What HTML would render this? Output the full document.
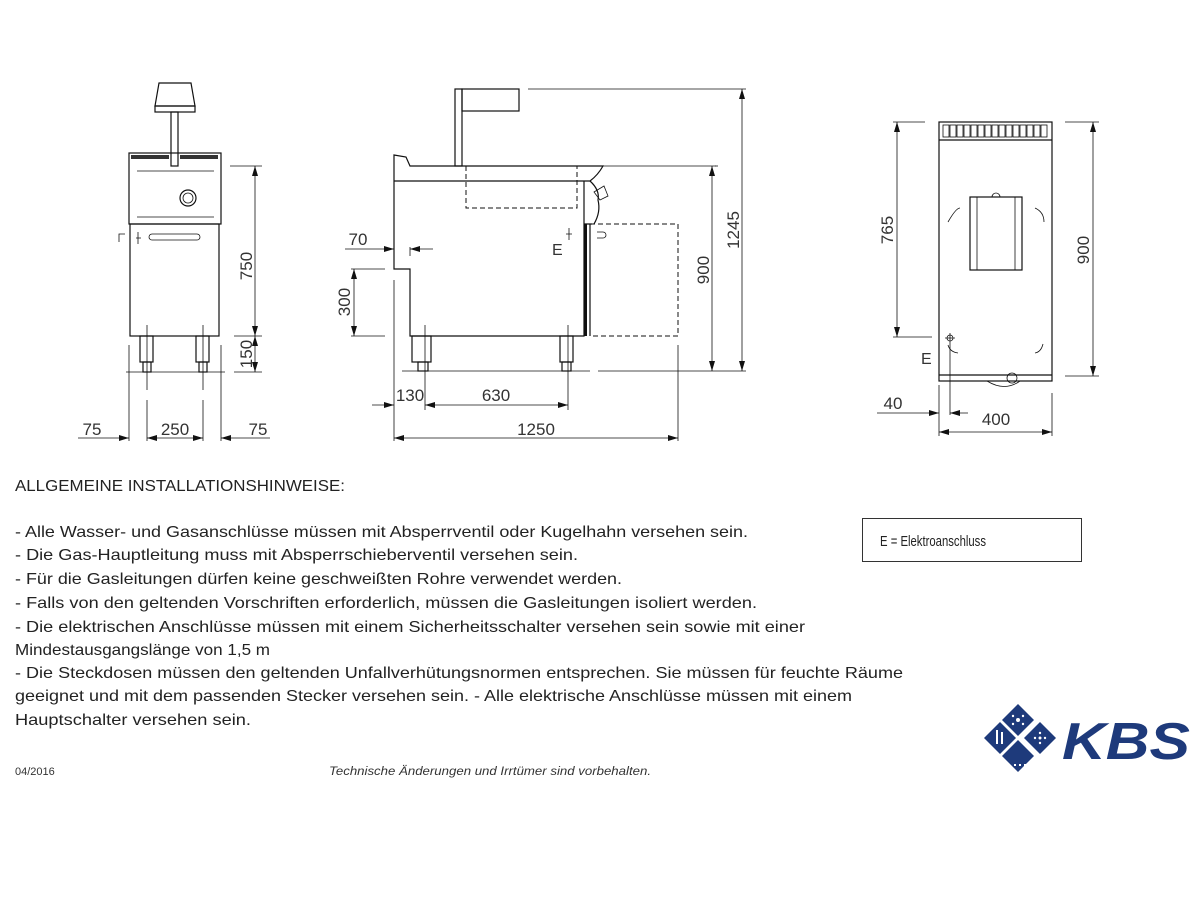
<!DOCTYPE html>
<html><head><meta charset="utf-8"><style>
html,body{margin:0;padding:0;background:#fff}
svg{display:block}
.l{stroke:#111;stroke-width:1.2;fill:none}
.t{stroke:#111;stroke-width:0.8;fill:none}
.d{stroke:#111;stroke-width:1;fill:none;stroke-dasharray:5,3}
.dim{font-family:"Liberation Sans",sans-serif;font-size:17px;fill:#333}
.body{font-family:"Liberation Sans",sans-serif;font-size:16px;fill:#222}
</style></head><body>
<svg width="1200" height="900" viewBox="0 0 1200 900" xmlns="http://www.w3.org/2000/svg">
<defs>
<marker id="a" viewBox="0 0 10 6" refX="10" refY="3" markerWidth="10" markerHeight="6" orient="auto-start-reverse" markerUnits="userSpaceOnUse"><path d="M0,0L10,3L0,6z" fill="#111"/></marker>
</defs>

<!-- FRONT VIEW -->
<path class="l" d="M159,83 L191,83 L195,106 L155,106 Z"/>
<rect class="l" x="155" y="106" width="40" height="6"/>
<rect class="l" x="171" y="112" width="7" height="54"/>
<rect class="l" x="129" y="153" width="92" height="71"/>
<g fill="#333"><rect x="131" y="155" width="38" height="4"/><rect x="180" y="155" width="38" height="4"/></g>
<line class="t" x1="137" y1="171" x2="214" y2="171"/>
<line class="t" x1="137" y1="217" x2="214" y2="217"/>
<circle class="l" cx="188" cy="198" r="8"/><circle class="t" cx="188" cy="198" r="5"/>
<rect class="l" x="130" y="224" width="89" height="112"/>
<rect class="t" x="149" y="234" width="51" height="6" rx="3"/>
<path class="t" d="M138,232v12M136,238h5M119,242v-8h6"/>
<rect class="l" x="140" y="336" width="13" height="26"/><rect class="l" x="143" y="362" width="8" height="10"/>
<rect class="l" x="196" y="336" width="13" height="26"/><rect class="l" x="199" y="362" width="8" height="10"/>
<line class="t" x1="126" y1="372" x2="225" y2="372"/>
<line class="t" x1="147" y1="325" x2="147" y2="390"/><line class="t" x1="147" y1="400" x2="147" y2="441"/>
<line class="t" x1="203" y1="325" x2="203" y2="390"/><line class="t" x1="203" y1="400" x2="203" y2="441"/>
<line class="t" x1="129" y1="345" x2="129" y2="441"/><line class="t" x1="221" y1="345" x2="221" y2="441"/>
<line class="t" x1="230" y1="166" x2="262" y2="166"/><line class="t" x1="234" y1="336" x2="262" y2="336"/><line class="t" x1="234" y1="372" x2="262" y2="372"/>
<line class="t" x1="255" y1="166" x2="255" y2="336" marker-start="url(#a)" marker-end="url(#a)"/>
<line class="t" x1="255" y1="336" x2="255" y2="372" marker-start="url(#a)" marker-end="url(#a)"/>
<text class="dim" transform="translate(252,266) rotate(-90)" text-anchor="middle">750</text>
<text class="dim" transform="translate(252,354) rotate(-90)" text-anchor="middle">150</text>
<line class="t" x1="78" y1="438" x2="129" y2="438" marker-end="url(#a)"/>
<line class="t" x1="147" y1="438" x2="203" y2="438" marker-start="url(#a)" marker-end="url(#a)"/>
<line class="t" x1="221" y1="438" x2="270" y2="438" marker-start="url(#a)"/>
<text class="dim" x="92" y="435" text-anchor="middle">75</text>
<text class="dim" x="175" y="435" text-anchor="middle">250</text>
<text class="dim" x="258" y="435" text-anchor="middle">75</text>

<!-- SIDE VIEW -->
<rect class="l" x="455" y="89" width="7" height="77"/>
<rect class="l" x="462" y="89" width="57" height="22"/>
<line class="t" x1="528" y1="89" x2="746" y2="89"/>
<path class="l" d="M394,181 L394,155 L406,157 L410,166 L577,166 L603,166 Q598,175 590,181 L394,181"/>
<path class="d" d="M466,166 L466,208 L577,208 L577,166"/>
<path class="l" d="M394,181 L394,269 L410,269 L410,336 L584,336 L584,181"/>
<rect x="584" y="224" width="3" height="112" fill="#111"/>
<path class="l" d="M590,224 L590,336 M584,224 L592,224"/>
<path class="l" d="M590,181 Q600,190 598,200 Q601,212 594,224"/>
<path class="t" d="M594,192 L604,186 L608,196 L600,200 Z"/>
<path class="d" d="M590,224 L678,224 L678,336 L590,336"/>
<path class="t" d="M597,232 h6 a3,3 0 0 1 0,6 h-6"/>
<path class="t" d="M569,228v12M566,234h6"/>
<text class="dim" x="552" y="255" style="font-size:16px">E</text>
<rect class="l" x="412" y="336" width="19" height="26"/><rect class="l" x="418" y="362" width="10" height="9"/>
<rect class="l" x="560" y="336" width="13" height="26"/><rect class="l" x="562" y="362" width="9" height="9"/>
<line class="t" x1="402" y1="371" x2="590" y2="371"/><line class="t" x1="598" y1="371" x2="746" y2="371"/>
<line class="t" x1="718" y1="166" x2="715" y2="166"/><line class="t" x1="603" y1="166" x2="716" y2="166"/>
<line class="t" x1="712" y1="166" x2="712" y2="371" marker-start="url(#a)" marker-end="url(#a)"/>
<line class="t" x1="742" y1="89" x2="742" y2="371" marker-start="url(#a)" marker-end="url(#a)"/>
<text class="dim" transform="translate(709,270) rotate(-90)" text-anchor="middle">900</text>
<text class="dim" transform="translate(739,230) rotate(-90)" text-anchor="middle">1245</text>
<line class="t" x1="345" y1="249" x2="394" y2="249" marker-end="url(#a)"/>
<line class="t" x1="433" y1="249" x2="410" y2="249" marker-end="url(#a)"/>
<line class="t" x1="410" y1="247" x2="410" y2="256"/>
<text class="dim" x="358" y="245" text-anchor="middle">70</text>
<line class="t" x1="351" y1="269" x2="385" y2="269"/><line class="t" x1="351" y1="336" x2="385" y2="336"/>
<line class="t" x1="354" y1="269" x2="354" y2="336" marker-start="url(#a)" marker-end="url(#a)"/>
<text class="dim" transform="translate(350,302) rotate(-90)" text-anchor="middle">300</text>
<line class="t" x1="394" y1="280" x2="394" y2="441"/>
<line class="t" x1="425" y1="325" x2="425" y2="410"/>
<line class="t" x1="568" y1="325" x2="568" y2="410"/>
<line class="t" x1="678" y1="345" x2="678" y2="441"/>
<line class="t" x1="372" y1="405" x2="394" y2="405" marker-end="url(#a)"/>
<line class="t" x1="425" y1="405" x2="568" y2="405" marker-start="url(#a)" marker-end="url(#a)"/>
<text class="dim" x="410" y="401" text-anchor="middle">130</text>
<text class="dim" x="496" y="401" text-anchor="middle">630</text>
<line class="t" x1="394" y1="438" x2="678" y2="438" marker-start="url(#a)" marker-end="url(#a)"/>
<text class="dim" x="536" y="435" text-anchor="middle">1250</text>

<!-- TOP VIEW -->
<rect class="l" x="939" y="122" width="113" height="259"/>
<line class="l" x1="939" y1="140" x2="1052" y2="140"/>
<line class="l" x1="939" y1="375" x2="1052" y2="375"/>
<g class="t">
<rect x="943" y="125" width="6" height="12"/><rect x="950" y="125" width="6" height="12"/><rect x="957" y="125" width="6" height="12"/><rect x="964" y="125" width="6" height="12"/><rect x="971" y="125" width="6" height="12"/><rect x="978" y="125" width="6" height="12"/><rect x="985" y="125" width="6" height="12"/><rect x="992" y="125" width="6" height="12"/><rect x="999" y="125" width="6" height="12"/><rect x="1006" y="125" width="6" height="12"/><rect x="1013" y="125" width="6" height="12"/><rect x="1020" y="125" width="6" height="12"/><rect x="1027" y="125" width="6" height="12"/><rect x="1034" y="125" width="6" height="12"/><rect x="1041" y="125" width="6" height="12"/>
</g>
<rect class="l" x="970" y="197" width="52" height="73"/>
<line class="t" x1="977" y1="197" x2="977" y2="270"/><line class="t" x1="1015" y1="197" x2="1015" y2="270"/>
<path class="t" d="M992,197 a4,4 0 0 1 8,0"/>
<path class="t" d="M948,222 Q956,208 960,208 M1035,208 Q1044,212 1044,222 M948,345 Q950,352 958,353 M1043,344 Q1041,352 1035,353"/>
<path class="t" d="M987,381 Q1005,392 1020,381"/>
<circle class="t" cx="1012" cy="378" r="5"/>
<circle class="t" cx="950" cy="338" r="3"/><path class="t" d="M945,338h10M950,333v10M950,341v74"/>
<text class="dim" x="921" y="364" style="font-size:16px">E</text>
<line class="t" x1="893" y1="122" x2="925" y2="122"/><line class="t" x1="893" y1="337" x2="932" y2="337"/>
<line class="t" x1="897" y1="122" x2="897" y2="337" marker-start="url(#a)" marker-end="url(#a)"/>
<text class="dim" transform="translate(893,230) rotate(-90)" text-anchor="middle">765</text>
<line class="t" x1="1065" y1="122" x2="1099" y2="122"/><line class="t" x1="1065" y1="376" x2="1099" y2="376"/>
<line class="t" x1="1093" y1="122" x2="1093" y2="376" marker-start="url(#a)" marker-end="url(#a)"/>
<text class="dim" transform="translate(1089,250) rotate(-90)" text-anchor="middle">900</text>
<line class="t" x1="939" y1="385" x2="939" y2="436"/><line class="t" x1="1052" y1="393" x2="1052" y2="436"/>
<line class="t" x1="877" y1="413" x2="939" y2="413" marker-end="url(#a)"/>
<line class="t" x1="968" y1="413" x2="950" y2="413" marker-end="url(#a)"/>
<text class="dim" x="893" y="409" text-anchor="middle">40</text>
<line class="t" x1="939" y1="432" x2="1052" y2="432" marker-start="url(#a)" marker-end="url(#a)"/>
<text class="dim" x="996" y="425" text-anchor="middle">400</text>

<!-- TEXT -->
<text class="body" x="15" y="491" textLength="330" lengthAdjust="spacingAndGlyphs">ALLGEMEINE INSTALLATIONSHINWEISE:</text>
<text class="body" x="15" y="537" textLength="733" lengthAdjust="spacingAndGlyphs">- Alle Wasser- und Gasanschlüsse müssen mit Absperrventil oder Kugelhahn versehen sein.</text>
<text class="body" x="15" y="560" textLength="563" lengthAdjust="spacingAndGlyphs">- Die Gas-Hauptleitung muss mit Absperrschieberventil versehen sein.</text>
<text class="body" x="15" y="584" textLength="607" lengthAdjust="spacingAndGlyphs">- Für die Gasleitungen dürfen keine geschweißten Rohre verwendet werden.</text>
<text class="body" x="15" y="608" textLength="742" lengthAdjust="spacingAndGlyphs">- Falls von den geltenden Vorschriften erforderlich, müssen die Gasleitungen isoliert werden.</text>
<text class="body" x="15" y="632" textLength="790" lengthAdjust="spacingAndGlyphs">- Die elektrischen Anschlüsse müssen mit einem Sicherheitsschalter versehen sein sowie mit einer</text>
<text class="body" x="15" y="655" textLength="255" lengthAdjust="spacingAndGlyphs">Mindestausgangslänge von 1,5 m</text>
<text class="body" x="15" y="678" textLength="888" lengthAdjust="spacingAndGlyphs">- Die Steckdosen müssen den geltenden Unfallverhütungsnormen entsprechen. Sie müssen für feuchte Räume</text>
<text class="body" x="15" y="701" textLength="837" lengthAdjust="spacingAndGlyphs">geeignet und mit dem passenden Stecker versehen sein. - Alle elektrische Anschlüsse müssen mit einem</text>
<text class="body" x="15" y="725" textLength="236" lengthAdjust="spacingAndGlyphs">Hauptschalter versehen sein.</text>

<rect x="862.5" y="518.5" width="219" height="43" fill="none" stroke="#333" stroke-width="1"/>
<text x="880" y="546" font-family="'Liberation Sans Narrow','Liberation Sans',sans-serif" font-size="15" fill="#222" textLength="106" lengthAdjust="spacingAndGlyphs">E = Elektroanschluss</text>

<text x="15" y="775" font-family="'Liberation Sans',sans-serif" font-size="11" fill="#333">04/2016</text>
<text x="329" y="775" font-family="'Liberation Sans',sans-serif" font-size="11.5" font-style="italic" fill="#333" textLength="322" lengthAdjust="spacingAndGlyphs">Technische Änderungen und Irrtümer sind vorbehalten.</text>

<!-- LOGO -->
<g fill="#1e3a7b">
<path d="M1018,704 L1034,720 L1018,736 L1002,720 Z"/>
<path d="M1040,722 L1056,738 L1040,754 L1024,738 Z"/>
<path d="M1000,722 L1016,738 L1000,754 L984,738 Z"/>
<path d="M1018,740 L1034,756 L1018,772 L1002,756 Z"/>
<text x="1062" y="759" font-family="'Liberation Sans',sans-serif" font-weight="bold" font-style="italic" font-size="52" textLength="128" lengthAdjust="spacingAndGlyphs">KBS</text>
</g>
<g fill="#fff">
<circle cx="1018" cy="720" r="2"/><circle cx="1013" cy="716" r="1.2"/><circle cx="1023" cy="716" r="1.2"/><circle cx="1013" cy="724" r="1.2"/><circle cx="1023" cy="724" r="1.2"/>
<circle cx="1040" cy="738" r="1.5"/><circle cx="1035" cy="738" r="1.2"/><circle cx="1045" cy="738" r="1.2"/><circle cx="1040" cy="733" r="1.2"/><circle cx="1040" cy="743" r="1.2"/>
<rect x="996" y="730" width="2" height="14"/><rect x="1001" y="732" width="2" height="12"/>
<rect x="1014" y="764" width="2" height="2"/><rect x="1019" y="764" width="2" height="2"/><rect x="1024" y="764" width="2" height="2"/>
</g>
</svg>
</body></html>
